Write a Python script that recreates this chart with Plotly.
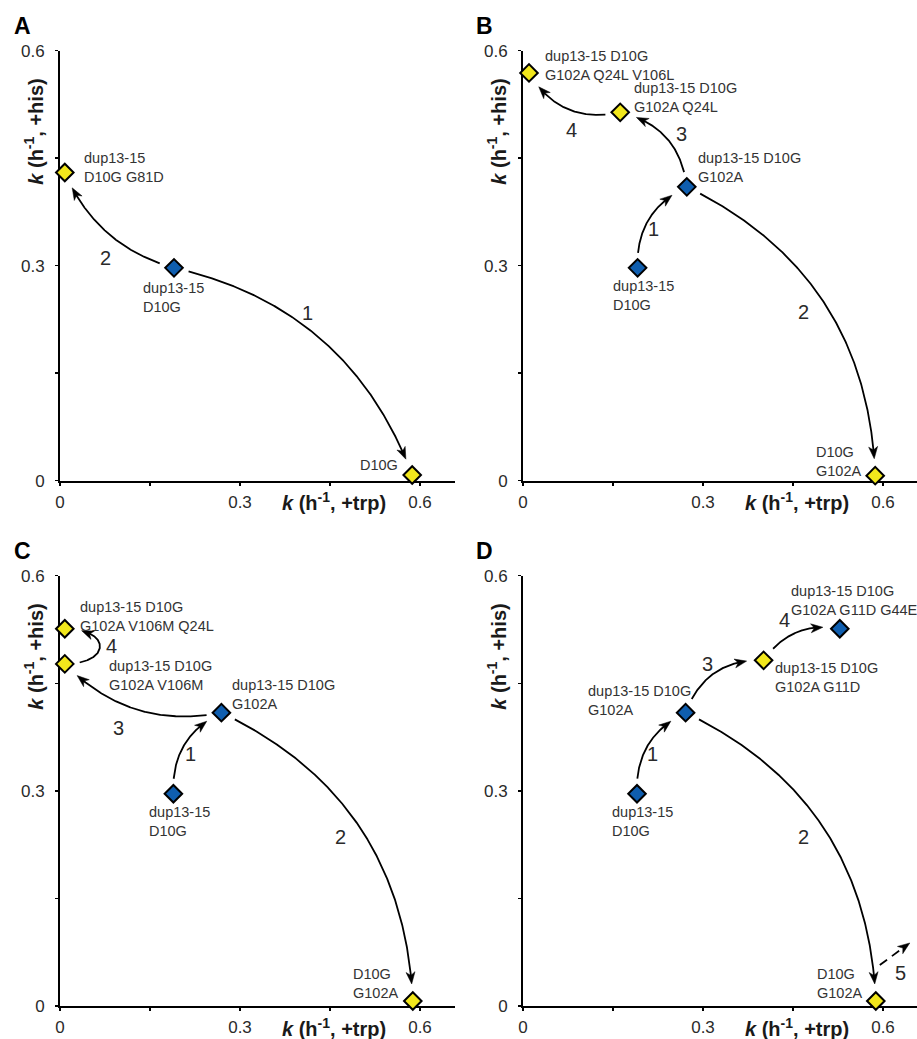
import numpy as np
import plotly.graph_objects as go

W, H = 917, 1039

# ---------------- data (growth rates k, h^-1) ----------------
# Panel A
A_names = ["dup13-15<br>D10G", "dup13-15<br>D10G G81D", "D10G"]
A_trp = [0.190, 0.008, 0.587]
A_his = [0.297, 0.430, 0.008]
A_kind = ["blue", "yellow", "yellow"]
A_from = [0, 0]
A_to = [2, 1]
A_num = ["1", "2"]

# Panel B
B_names = ["dup13-15<br>D10G", "dup13-15 D10G<br>G102A", "D10G<br>G102A",
           "dup13-15 D10G<br>G102A Q24L", "dup13-15 D10G<br>G102A Q24L V106L"]
B_trp = [0.191, 0.273, 0.587, 0.162, 0.010]
B_his = [0.297, 0.410, 0.007, 0.514, 0.569]
B_kind = ["blue", "blue", "yellow", "yellow", "yellow"]
B_from = [0, 1, 1, 3]
B_to = [1, 2, 3, 4]
B_num = ["1", "2", "3", "4"]

# Panel C
C_names = ["dup13-15<br>D10G", "dup13-15 D10G<br>G102A", "D10G<br>G102A",
           "dup13-15 D10G<br>G102A V106M", "dup13-15 D10G<br>G102A V106M Q24L"]
C_trp = [0.189, 0.269, 0.588, 0.008, 0.008]
C_his = [0.296, 0.409, 0.007, 0.477, 0.526]
C_kind = ["blue", "blue", "yellow", "yellow", "yellow"]
C_from = [0, 1, 1, 3]
C_to = [1, 2, 3, 4]
C_num = ["1", "2", "3", "4"]

# Panel D
D_names = ["dup13-15<br>D10G", "dup13-15 D10G<br>G102A", "D10G<br>G102A",
           "dup13-15 D10G<br>G102A G11D", "dup13-15 D10G<br>G102A G11D G44E"]
D_trp = [0.190, 0.271, 0.588, 0.401, 0.528]
D_his = [0.296, 0.409, 0.007, 0.482, 0.526]
D_kind = ["blue", "blue", "yellow", "yellow", "blue"]
D_from = [0, 1, 1, 3]
D_to = [1, 2, 3, 4]
D_num = ["1", "2", "3", "4"]
D_open_from = [2]      # step leaving the plotted region (dashed)
D_open_num = ["5"]

MAJOR_TICKS = [0, 0.3, 0.6]
MAJOR_TEXT = ["0", "0.3", "0.6"]
MINOR_TICKS = [0.15, 0.45]
Y_MAX = 0.6

# ---------------- style ----------------
COLORS = {"blue": "#0F5EAF", "yellow": "#F2E71C"}
FONT = "Liberation Sans, Arial, Helvetica, sans-serif"
TXT = "#2a2a2a"
PX_PER_X = 600.0
HEAD_LEN, HEAD_HW, HEAD_NOTCH = 12.0, 4.5, 0.72
TRIM_START, TRIM_END = 15.0, 17.0
LINE_W = 1.8

dom_px_x = {"A": (60, 455), "B": (523, 917), "C": (60, 455), "D": (523, 917)}
dom_px_y = {"A": (50.7, 480.7), "B": (50.7, 480.7), "C": (575.7, 1006), "D": (575.7, 1006)}

label_pos = {
    "A": [("left", -33, -30), ("left", 17, 5), ("right", -12, 10)],
    "B": [("left", -27, -28), ("left", 9, 19), ("right", -12, 14), ("left", 12, 15), ("left", 14, 7)],
    "C": [("left", -26, -28), ("left", 9, 18), ("right", -13, 17), ("left", 42, -12), ("left", 13, 12)],
    "D": [("left", -27, -28), ("right", 7, 12), ("right", -12, 17), ("left", 9, -17), ("left", -51, 28)],
}
bends = {"A": [0.135, 0.12], "B": [0.165, 0.15, -0.175, 0.18],
         "C": [0.165, 0.15, 0.135, -1.0], "D": [0.165, 0.15, 0.18, 0.16]}
ctrl_k = {"A": [1/3, 1/3], "B": [1/3] * 4, "C": [1/3, 1/3, 1/3, 0.0], "D": [1/3] * 4}
num_shift = {"A": [(-14, 26), (-2, -25)],
             "B": [(5, -10), (-21, -9), (15, 4), (4, -21)],
             "C": [(6, -9), (-20, -9), (-18, -18.5), (12, 0)],
             "D": [(5, -9), (-20, -9), (-8, 8), (-12, 12)]}
open_geom = {"start": (4, 36), "tip": (34, 58), "label": (25, 28)}

panels = [
    ("A", A_names, A_trp, A_his, A_kind, A_from, A_to, A_num),
    ("B", B_names, B_trp, B_his, B_kind, B_from, B_to, B_num),
    ("C", C_names, C_trp, C_his, C_kind, C_from, C_to, C_num),
    ("D", D_names, D_trp, D_his, D_kind, D_from, D_to, D_num),
]


def cubic(P0, C1, C2, P1, n=401):
    t = np.linspace(0.0, 1.0, n)[:, None]
    return ((1 - t) ** 3) * P0 + 3 * ((1 - t) ** 2) * t * C1 + 3 * (1 - t) * t ** 2 * C2 + t ** 3 * P1


def build_arrow(P0, P1, bend, k, s0, s1):
    d = P1 - P0
    L = np.hypot(*d)
    u = d / L
    nrm = np.array([-u[1], u[0]])
    h = bend / 0.75 * L
    C1 = P0 + k * d + h * nrm
    C2 = P1 - k * d + h * nrm
    pts = cubic(P0, C1, C2, P1)
    seg = np.hypot(np.diff(pts[:, 0]), np.diff(pts[:, 1]))
    s = np.concatenate([[0.0], np.cumsum(seg)])

    def at(v):
        return np.array([np.interp(v, s, pts[:, 0]), np.interp(v, s, pts[:, 1])])

    tip_s = s[-1] - s1
    tip = at(tip_s)
    back = at(tip_s - HEAD_LEN)
    dv = (tip - back) / np.hypot(*(tip - back))
    nv = np.array([-dv[1], dv[0]])
    end_s = tip_s - 0.6 * HEAD_LEN
    inner = pts[(s > s0) & (s < end_s)]
    line = np.vstack([at(s0), inner, at(end_s)])
    head = np.array([tip, tip - HEAD_LEN * dv + HEAD_HW * nv,
                     tip - HEAD_NOTCH * HEAD_LEN * dv, tip - HEAD_LEN * dv - HEAD_HW * nv])
    mid = pts[len(pts) // 2]
    return line, head, mid


fig = go.Figure()
annotations = []
shapes = []
layout = {}

for i, (pid, names, trp, his, kind, frm, to, num) in enumerate(panels):
    sfx = "" if i == 0 else str(i + 1)
    xa, ya = "x" + sfx, "y" + sfx
    x0p, x1p = dom_px_x[pid]
    ytop, ybot = dom_px_y[pid]
    xr = (x1p - x0p) / PX_PER_X
    sx = PX_PER_X
    sy = (ybot - ytop) / Y_MAX

    axis_common = dict(showline=True, linecolor="black", linewidth=2, ticks="outside",
                       ticklen=3, tickwidth=1.5, tickcolor="black", tickmode="array",
                       tickvals=MAJOR_TICKS, ticktext=MAJOR_TEXT,
                       minor=dict(tickmode="array", tickvals=MINOR_TICKS, ticks="outside",
                                  ticklen=3, tickwidth=1.5, tickcolor="black", showgrid=False),
                       showgrid=False, zeroline=False, automargin=False,
                       tickfont=dict(family=FONT, size=17, color=TXT),
                       layer="below traces", fixedrange=True)
    layout["xaxis" + sfx] = dict(domain=[x0p / W, min(1.0, x1p / W)], range=[0, xr],
                                 anchor=ya, ticklabelstandoff=2, **axis_common)
    layout["yaxis" + sfx] = dict(domain=[1 - ybot / H, 1 - ytop / H], range=[0, Y_MAX],
                                 anchor=xa, ticklabelstandoff=7, **axis_common)

    P = [np.array([trp[j] * sx, his[j] * sy]) for j in range(len(trp))]

    # arrows between genotypes
    for a in range(len(frm)):
        line, head, mid = build_arrow(P[frm[a]], P[to[a]], bends[pid][a], ctrl_k[pid][a],
                                      TRIM_START, TRIM_END)
        fig.add_trace(go.Scatter(x=line[:, 0] / sx, y=line[:, 1] / sy, mode="lines",
                                 line=dict(color="black", width=LINE_W), xaxis=xa, yaxis=ya,
                                 hoverinfo="skip", showlegend=False))
        path = "M" + " L".join(f"{p[0] / sx:.5f},{p[1] / sy:.5f}" for p in head) + " Z"
        shapes.append(dict(type="path", path=path, xref=xa, yref=ya, fillcolor="black",
                           line=dict(color="black", width=0.5), layer="above"))
        dxs, dys = num_shift[pid][a]
        annotations.append(dict(x=mid[0] / sx, y=mid[1] / sy, xref=xa, yref=ya, text=num[a],
                                showarrow=False, xshift=dxs, yshift=dys,
                                font=dict(family=FONT, size=20, color=TXT)))

    # step leaving the plotted region (panel D)
    if pid == "D":
        for a, src in enumerate(D_open_from):
            st = P[src] + np.array(open_geom["start"], dtype=float)
            tp = P[src] + np.array(open_geom["tip"], dtype=float)
            line, head, mid = build_arrow(st, tp, 0.0, 1 / 3, 0.0, 0.0)
            fig.add_trace(go.Scatter(x=line[:, 0] / sx, y=line[:, 1] / sy, mode="lines",
                                     line=dict(color="black", width=LINE_W, dash="9px,6px"),
                                     xaxis=xa, yaxis=ya, hoverinfo="skip", showlegend=False))
            path = "M" + " L".join(f"{p[0] / sx:.5f},{p[1] / sy:.5f}" for p in head) + " Z"
            shapes.append(dict(type="path", path=path, xref=xa, yref=ya, fillcolor="black",
                               line=dict(color="black", width=0.5), layer="above"))
            annotations.append(dict(x=trp[src], y=his[src], xref=xa, yref=ya,
                                    text=D_open_num[a], showarrow=False,
                                    xshift=open_geom["label"][0], yshift=open_geom["label"][1],
                                    font=dict(family=FONT, size=20, color=TXT)))

    # genotype markers
    fig.add_trace(go.Scatter(x=trp, y=his, mode="markers", xaxis=xa, yaxis=ya,
                             marker=dict(symbol="diamond", size=13.5,
                                         color=[COLORS[k] for k in kind],
                                         line=dict(color="black", width=2)),
                             cliponaxis=False, hoverinfo="skip", showlegend=False))

    # genotype labels
    for j, nm in enumerate(names):
        anc, dx, dy = label_pos[pid][j]
        annotations.append(dict(x=trp[j], y=his[j], xref=xa, yref=ya, text=nm,
                                showarrow=False, xanchor=anc, yanchor="middle", align="left",
                                xshift=dx, yshift=dy,
                                font=dict(family=FONT, size=14.5, color="#333333")))

    # axis titles
    annotations.append(dict(x=(x0p + 274) / W, y=1 - (ybot + 21) / H, xref="paper", yref="paper",
                            text="<b><i>k</i> (h<sup>-1</sup>, +trp)</b>", showarrow=False,
                            xanchor="center", yanchor="middle",
                            font=dict(family=FONT, size=20, color="#1a1a1a")))
    annotations.append(dict(x=(x0p - 26) / W, y=1 - (ytop + 81) / H, xref="paper", yref="paper",
                            text="<b><i>k</i> (h<sup>-1</sup>, +his)</b>", showarrow=False,
                            textangle=-90, xanchor="center", yanchor="middle",
                            font=dict(family=FONT, size=20, color="#1a1a1a")))
    # panel letter
    annotations.append(dict(x=(x0p - 38) / W, y=1 - (ytop - 25) / H, xref="paper", yref="paper",
                            text=f"<b>{pid}</b>", showarrow=False, xanchor="center",
                            yanchor="middle", font=dict(family=FONT, size=23, color="black")))

fig.update_layout(width=W, height=H,
                  margin=dict(l=0, r=0, t=0, b=0, pad=0, autoexpand=False),
                  paper_bgcolor="white", plot_bgcolor="white", showlegend=False,
                  hovermode=False, annotations=annotations, shapes=shapes, **layout)

fig.write_html("out.html", config={"displayModeBar": False, "staticPlot": True},
               post_script="document.body.style.margin='0';document.body.style.overflow='hidden';")
